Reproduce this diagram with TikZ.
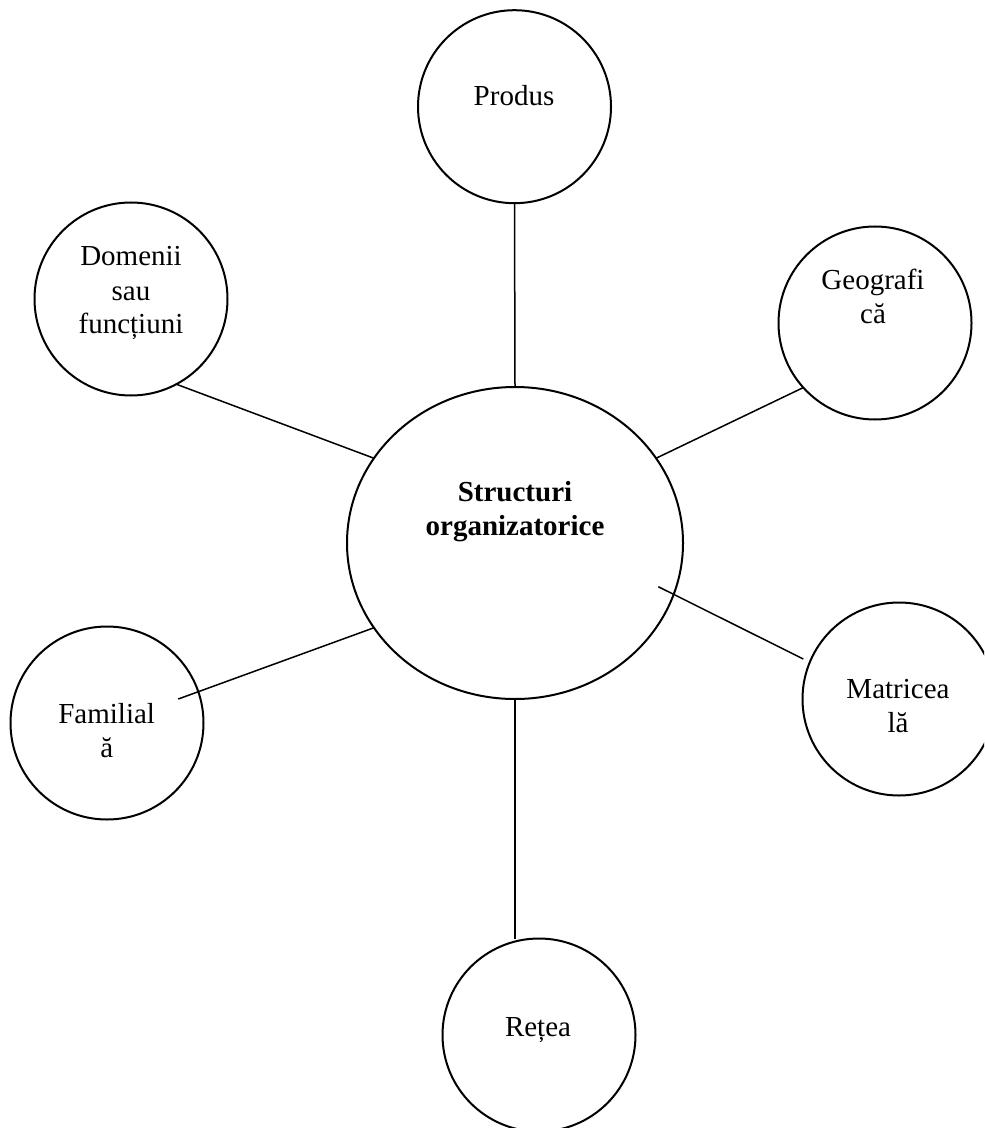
\documentclass[tikz,border=0pt]{standalone}
\usepackage{fontspec}
\setmainfont{Liberation Serif}
\usetikzlibrary{shapes.geometric,calc}
\begin{document}
\begin{tikzpicture}[x=0.5pt,y=-0.5pt,
  bubble/.style={draw=black, line width=1pt, circle, minimum size=96.5pt, inner sep=0pt, outer sep=0pt},
  hub/.style={draw=black, line width=1pt, ellipse, minimum width=168pt, minimum height=156pt, inner sep=0pt, outer sep=0pt},
  lbl/.style={font=\fontsize{14.5pt}{17pt}\selectfont, align=center, anchor=base, inner sep=0pt},
  link/.style={draw=black, line width=0.75pt}]
\clip (0,0) rectangle (984,1128);
\fill[white] (0,0) rectangle (984,1128);
% circles
\node[hub] (C) at (515,543) {};
\node[bubble] (P) at (514.5,106.7) {};
\node[bubble] (D) at (131,299) {};
\node[bubble] (G) at (875,323) {};
\node[bubble] (F) at (107,723) {};
\node[bubble] (M) at (899,699) {};
\node[bubble] (R) at (539,1035) {};
% texts (anchor=base is the baseline of the last line)
\node[lbl, font=\fontsize{14.5pt}{17pt}\selectfont\bfseries] (tC) at (515,535.5) {Structuri\\organizatorice};
\node[lbl] (tP) at (514,106) {Produs};
\node[lbl] (tD) at (131,334) {Domenii\\sau\\funcțiuni};
\node[lbl] (tG) at (873,323) {Geografi\\că};
\node[lbl] (tF) at (106.7,757) {Familial\\ă};
\node[lbl] (tM) at (898,732.5) {Matricea\\lă};
\node[lbl] (tR) at (538,1036) {Rețea};
% connectors
\draw[link] (P.south) -- (C.north);
\draw[link] (C.south) -- (C.south |- R.north);
\draw[link] (D.-62) -- (C.149);
\draw[link] (G.222) -- (C.31);
\draw[link] ($(F)+(71.3,-24)$) -- (C.211);
\draw[link] ($(C)+(143.3,43.7)$) -- ($(M)+(-95.7,-40)$);
\end{tikzpicture}
\end{document}
